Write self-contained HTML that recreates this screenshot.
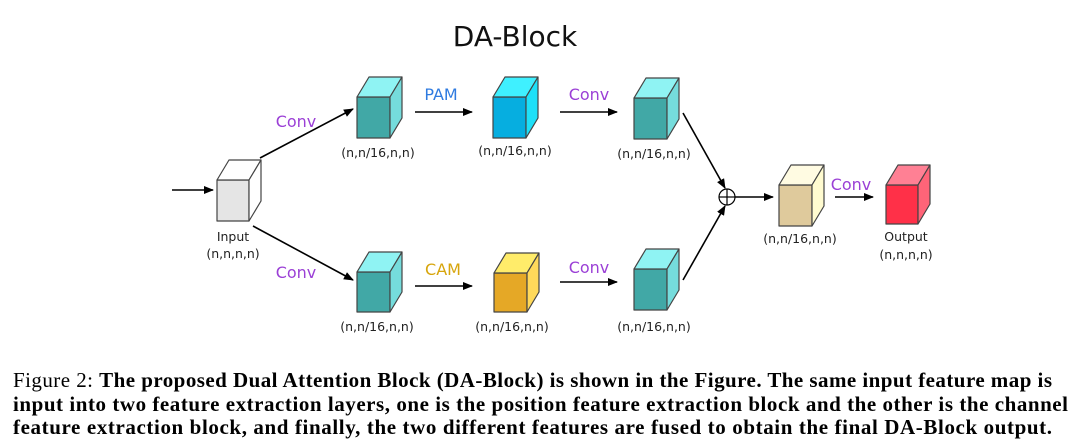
<!DOCTYPE html>
<html><head><meta charset="utf-8"><style>
html,body{margin:0;padding:0;background:#fff;width:1080px;height:445px;overflow:hidden}
svg{display:block}
.lab{font-family:"DejaVu Sans","Liberation Sans",sans-serif;font-size:12.5px;fill:#222}
.op{font-family:"DejaVu Sans","Liberation Sans",sans-serif;font-size:16px}
.cap{font-family:"Liberation Serif",serif;font-size:21px;fill:#000}
</style></head><body>
<svg width="1080" height="445" viewBox="0 0 1080 445" xmlns="http://www.w3.org/2000/svg">
<defs>
<marker id="a" markerWidth="10" markerHeight="8" refX="9" refY="4" orient="auto" markerUnits="userSpaceOnUse">
<path d="M0,0 L10,4 L0,8 z" fill="#000"/></marker>
</defs>
<text x="515" y="46" text-anchor="middle" font-family="DejaVu Sans,Liberation Sans,sans-serif" font-size="28" fill="#111">DA-Block</text>

<g stroke="#444" stroke-width="1.2" stroke-linejoin="round">
<rect x="217" y="180" width="32" height="41" fill="#e5e5e5"/>
<polygon points="217,180 229,160 261,160 249,180" fill="#fff"/>
<polygon points="249,180 261,160 261,201 249,221" fill="#fff"/>
<rect x="357" y="97" width="33" height="41" fill="#41a8a6"/>
<polygon points="357,97 369,77 402,77 390,97" fill="#8ff3f3"/>
<polygon points="390,97 402,77 402,118 390,138" fill="#75dcdc"/>
<rect x="493" y="97" width="33" height="41" fill="#06aee0"/>
<polygon points="493,97 505,77 538,77 526,97" fill="#3ff0ff"/>
<polygon points="526,97 538,77 538,118 526,138" fill="#1ee0f8"/>
<rect x="634" y="98" width="33" height="41" fill="#41a8a6"/>
<polygon points="634,98 646,78 679,78 667,98" fill="#8ff3f3"/>
<polygon points="667,98 679,78 679,119 667,139" fill="#75dcdc"/>
<rect x="357" y="272" width="33" height="40" fill="#41a8a6"/>
<polygon points="357,272 369,252 402,252 390,272" fill="#8ff3f3"/>
<polygon points="390,272 402,252 402,292 390,312" fill="#75dcdc"/>
<rect x="494" y="273" width="33" height="39" fill="#e5a826"/>
<polygon points="494,273 506,253 539,253 527,273" fill="#ffec6a"/>
<polygon points="527,273 539,253 539,292 527,312" fill="#ffd95a"/>
<rect x="634" y="269" width="33" height="41" fill="#41a8a6"/>
<polygon points="634,269 646,249 679,249 667,269" fill="#8ff3f3"/>
<polygon points="667,269 679,249 679,290 667,310" fill="#75dcdc"/>
<rect x="779" y="185" width="33" height="41" fill="#dfca9c"/>
<polygon points="779,185 791,165 824,165 812,185" fill="#fffbe2"/>
<polygon points="812,185 824,165 824,206 812,226" fill="#fffbd0"/>
<rect x="886" y="185" width="32" height="39" fill="#ff3048"/>
<polygon points="886,185 898,165 930,165 918,185" fill="#ff8094"/>
<polygon points="918,185 930,165 930,204 918,224" fill="#ff6478"/>
</g>

<g stroke="#000" stroke-width="1.6" fill="none" marker-end="url(#a)">
<line x1="172" y1="190" x2="213" y2="190"/>
<line x1="260" y1="158" x2="353" y2="109"/>
<line x1="253" y1="226" x2="353" y2="280"/>
<line x1="415" y1="112" x2="472" y2="112"/>
<line x1="415" y1="286" x2="472" y2="286"/>
<line x1="560" y1="112" x2="617" y2="112"/>
<line x1="560" y1="282" x2="617" y2="282"/>
<line x1="683" y1="113" x2="725" y2="188"/>
<line x1="683" y1="280" x2="725" y2="206"/>
<line x1="735" y1="197" x2="773" y2="197"/>
<line x1="835" y1="197" x2="873" y2="197"/>
</g>
<circle cx="727" cy="197" r="8" fill="#fff" stroke="#000" stroke-width="1.2"/>
<line x1="719" y1="197" x2="735" y2="197" stroke="#000" stroke-width="1.2"/>
<line x1="727" y1="189" x2="727" y2="205" stroke="#000" stroke-width="1.2"/>

<g class="op">
<text x="296" y="127" text-anchor="middle" fill="#9b40d6">Conv</text>
<text x="296" y="278" text-anchor="middle" fill="#9b40d6">Conv</text>
<text x="441" y="100" text-anchor="middle" fill="#2f7be0">PAM</text>
<text x="443" y="275" text-anchor="middle" fill="#d7a50c">CAM</text>
<text x="589" y="100" text-anchor="middle" fill="#9b40d6">Conv</text>
<text x="589" y="273" text-anchor="middle" fill="#9b40d6">Conv</text>
<text x="851" y="190" text-anchor="middle" fill="#9b40d6">Conv</text>
</g>
<g class="lab" text-anchor="middle">
<text x="378" y="157">(n,n/16,n,n)</text>
<text x="515" y="155">(n,n/16,n,n)</text>
<text x="654" y="158">(n,n/16,n,n)</text>
<text x="377" y="331">(n,n/16,n,n)</text>
<text x="512" y="331">(n,n/16,n,n)</text>
<text x="654" y="331">(n,n/16,n,n)</text>
<text x="800" y="243">(n,n/16,n,n)</text>
<text x="233" y="241">Input</text>
<text x="233" y="258">(n,n,n,n)</text>
<text x="906" y="241">Output</text>
<text x="906" y="259">(n,n,n,n)</text>
</g>

<text class="cap" x="13" y="387" textLength="1039" lengthAdjust="spacing">Figure 2: <tspan font-weight="bold">The proposed Dual Attention Block (DA-Block) is shown in the Figure. The same input feature map is</tspan></text>
<text class="cap" x="13" y="411" textLength="1055" lengthAdjust="spacing" font-weight="bold">input into two feature extraction layers, one is the position feature extraction block and the other is the channel</text>
<text class="cap" x="13" y="434" textLength="1039" lengthAdjust="spacing" font-weight="bold">feature extraction block, and finally, the two different features are fused to obtain the final DA-Block output.</text>
</svg>
</body></html>
